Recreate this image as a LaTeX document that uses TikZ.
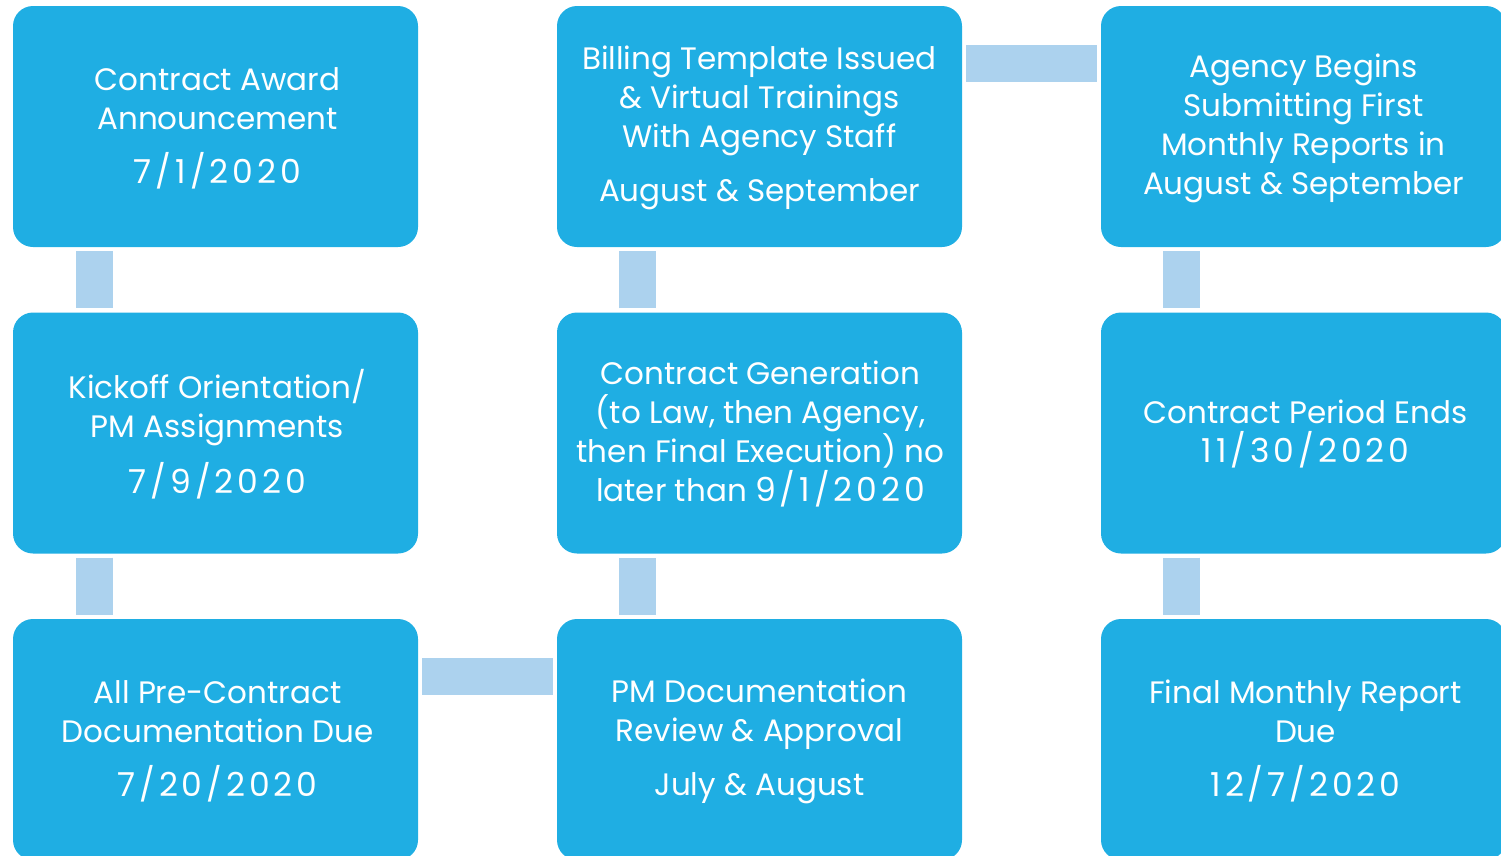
\documentclass[tikz,border=0pt]{standalone}
\usepackage{fontspec}
\setmainfont{Poppins}
\newfontfamily\datefontbase[LetterSpace=12]{Poppins}
\newcommand{\datefont}{\datefontbase\fontsize{33}{39}\selectfont}
\usetikzlibrary{calc}
\definecolor{boxblue}{RGB}{31,174,227}
\definecolor{linkblue}{RGB}{172,210,238}
\begin{document}
\begin{tikzpicture}[x=1pt,y=-1pt,
  box/.style={fill=boxblue,draw=none,rounded corners=20pt,minimum width=405pt,minimum height=241pt,inner sep=0pt},
  txt/.style={text=white,align=center,font=\fontsize{31}{39}\selectfont,inner sep=0pt},
  conn/.style={draw=linkblue,line width=37pt,line cap=butt}]
\clip (0,0) rectangle (1501,855);
% boxes
\node[box] (b1) at (215.5,126.5) {};
\node[box] (b2) at (215.5,433) {};
\node[box] (b3) at (215.5,739.5) {};
\node[box] (b4) at (759.5,739.5) {};
\node[box] (b5) at (759.5,433) {};
\node[box] (b6) at (759.5,126.5) {};
\node[box] (b7) at (1303.5,126.5) {};
\node[box] (b8) at (1303.5,433) {};
\node[box] (b9) at (1303.5,739.5) {};
% connectors
\draw[conn] ($(b1.south west)+(81.5,4)$) -- ($(b2.north west)+(81.5,-4)$);
\draw[conn] ($(b2.south west)+(81.5,4)$) -- ($(b3.north west)+(81.5,-4)$);
\draw[conn] ($(b3.north east)+(4,58)$) -- ($(b4.north west)+(-4,58)$);
\draw[conn] ($(b4.north west)+(80.5,-4)$) -- ($(b5.south west)+(80.5,4)$);
\draw[conn] ($(b5.north west)+(80.5,-4)$) -- ($(b6.south west)+(80.5,4)$);
\draw[conn] ($(b6.north east)+(4,58)$) -- ($(b7.north west)+(-4,58)$);
\draw[conn] ($(b7.south west)+(80.5,4)$) -- ($(b8.north west)+(80.5,-4)$);
\draw[conn] ($(b8.south west)+(80.5,4)$) -- ($(b9.north west)+(80.5,-4)$);
% texts
\node[txt] (t1) at (217.5,128) {Contract Award\\Announcement\\[15pt]{\datefont 7/1/2020}};
\node[txt] (t2) at (217.5,434) {Kickoff Orientation/\\PM Assignments\\[15pt]{\datefont 7/9/2020}};
\node[txt] (t3) at (217.5,741) {All Pre-Contract\\Documentation Due\\[15pt]{\datefont 7/20/2020}};
\node[txt] (t4) at (759.5,741) {PM Documentation\\Review \& Approval\\[15pt]July \& August};
\node[txt] (t5) at (760.5,433.5) {Contract Generation\\(to Law, then Agency,\\then Final Execution) no\\later than {\datefont 9/1/2020}};
\node[txt] (t6) at (759.5,127.5) {Billing Template Issued\\\& Virtual Trainings\\With Agency Staff\\[15pt]August \& September};
\node[txt] (t7) at (1303.5,128) {Agency Begins\\Submitting First\\Monthly Reports in\\August \& September};
\node[txt] (t8) at (1305.5,434) {Contract Period Ends\\{\datefont 11/30/2020}};
\node[txt] (t9) at (1305.5,741) {Final Monthly Report\\Due\\[15pt]{\datefont 12/7/2020}};
\end{tikzpicture}
\end{document}
